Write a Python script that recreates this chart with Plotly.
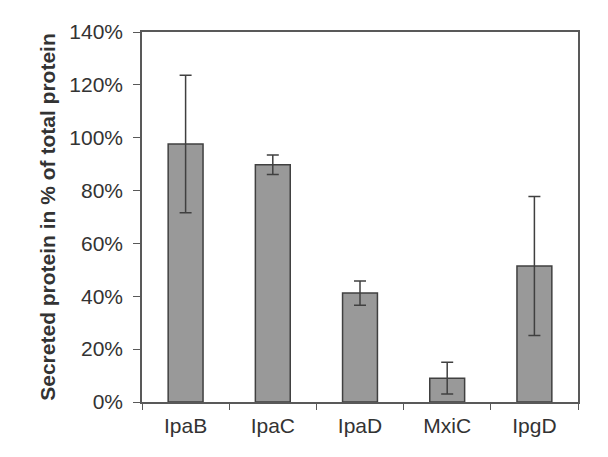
import plotly.graph_objects as go

categories = ["IpaB", "IpaC", "IpaD", "MxiC", "IpgD"]
values = [97.6, 89.8, 41.2, 9.0, 51.5]
errors = [26.0, 3.7, 4.6, 6.0, 26.3]
y_ticks = [0, 20, 40, 60, 80, 100, 120, 140]
y_tick_labels = [f"{t}%" for t in y_ticks]

fig = go.Figure(
    go.Bar(
        x=categories,
        y=values,
        width=0.4,
        marker=dict(color="#999999", line=dict(color="#404040", width=1.5)),
        error_y=dict(type="data", array=errors, visible=True,
                     color="#404040", thickness=1.5, width=6),
    )
)

font_family = "Liberation Sans, Arial, sans-serif"
fig.update_layout(
    width=608, height=457,
    margin=dict(l=134, r=38, t=24, b=63),
    plot_bgcolor="white", paper_bgcolor="white",
    showlegend=False,
    font=dict(family=font_family, color="#333333", size=21),
)
fig.update_xaxes(
    showline=True, linecolor="#595959", linewidth=1.5, mirror=True,
    ticks="outside", tickson="boundaries", ticklen=6, tickcolor="#595959",
    tickfont=dict(size=21, color="#333333"), showgrid=False,
    ticklabelstandoff=4,
)
fig.update_yaxes(
    range=[0, 140], tickvals=y_ticks, ticktext=y_tick_labels,
    showline=True, linecolor="#595959", linewidth=1.5, mirror=True,
    ticks="outside", ticklen=7, tickcolor="#595959", showgrid=False, zeroline=False,
    tickfont=dict(size=21, color="#333333"), ticklabelstandoff=6,
    title=dict(text="<b>Secreted protein in % of total protein</b>",
               font=dict(size=21, color="#333333"), standoff=8),
)

fig.write_html("out.html")
